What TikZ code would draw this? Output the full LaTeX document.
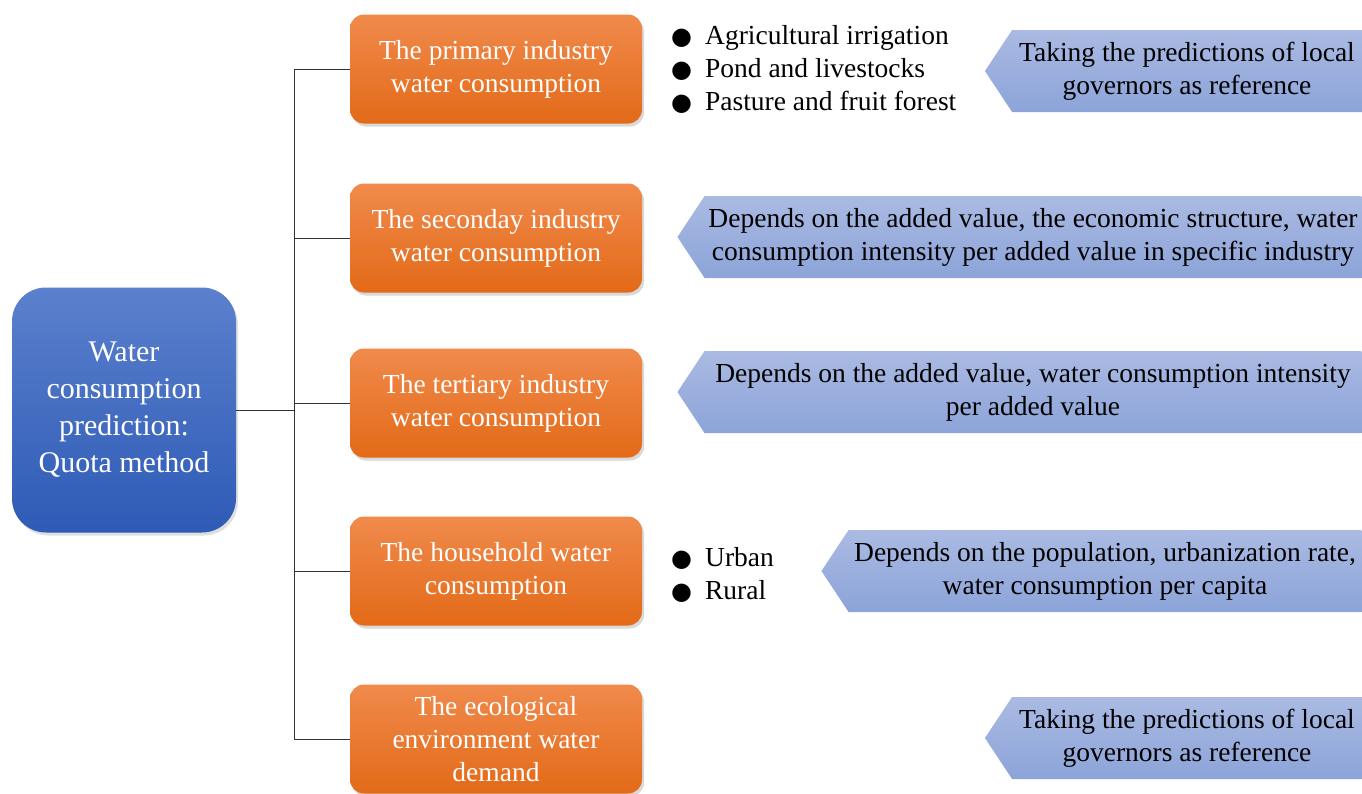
\documentclass[tikz,border=0pt]{standalone}
\usepackage{fontspec}
\setmainfont{Liberation Serif}
\newfontfamily\symfont{DejaVu Sans}
\usetikzlibrary{shapes.symbols,shadows}

\definecolor{rootTop}{HTML}{5B80CD}
\definecolor{rootBot}{HTML}{2E5BB6}
\definecolor{itemTop}{HTML}{F08A4C}
\definecolor{itemBot}{HTML}{E36A18}
\definecolor{noteTop}{HTML}{AABAE2}
\definecolor{noteBot}{HTML}{8CA4D9}

\tikzset{
    root/.style={rounded corners=34, top color=rootTop, bottom color=rootBot,
        text=white, minimum width=224, minimum height=245, align=center,
        font=\fontsize{30}{37}\selectfont,
        drop shadow={opacity=0.25, shadow xshift=2, shadow yshift=3}},
    item/.style={rounded corners=14, top color=itemTop, bottom color=itemBot,
        text=white, minimum width=292, minimum height=109, align=center,
        font=\fontsize{27.5}{33}\selectfont,
        drop shadow={opacity=0.3, shadow xshift=2, shadow yshift=3}},
    note/.style={signal, signal to=west, signal pointer angle=113,
        minimum height=82, top color=noteTop, bottom color=noteBot,
        align=center, inner sep=0, font=\fontsize{27.5}{33}\selectfont},
    list/.style={anchor=west, align=left, inner sep=0,
        font=\fontsize{27.5}{33}\selectfont},
    link/.style={draw=black!80, line width=0.9}
}
\newcommand{\dotitem}{{\symfont\fontsize{24}{33}\selectfont ●}\hspace{13pt}}

\begin{document}
\begin{tikzpicture}[x=1pt, y=-1pt]
    \useasboundingbox (0,0) rectangle (1362,793);

    \node (root) at (124,410) [root] {Water\\consumption\\prediction:\\Quota method};

    \node (o1) at (496,69) [item] {The primary industry\\water consumption};
    \node (o2) at (496,238) [item] {The seconday industry\\water consumption};
    \node (o3) at (496,403) [item] {The tertiary industry\\water consumption};
    \node (o4) at (496,571) [item] {The household water\\consumption};
    \node (o5) at (496,739) [item] {The ecological\\environment water\\demand};

    \coordinate (j) at (294,410);
    \draw[link] (root.east) -- (j);
    \draw[link] (j) |- (o1.west);
    \draw[link] (j) |- (o2.west);
    \draw[link] (j) |- (o3.west);
    \draw[link] (j) |- (o4.west);
    \draw[link] (j) |- (o5.west);

    \node (l1) at (671,69) [list] {\dotitem Agricultural irrigation\\
        \dotitem Pond and livestocks\\ \dotitem Pasture and fruit forest};
    \node (l4) at (671,575) [list] {\dotitem Urban\\ \dotitem Rural};

    \node (n1) at (1187,71) [note, minimum width=377]
        {Taking the predictions of local\\governors as reference};
    \node (n2) at (1033,237) [note, minimum width=684]
        {Depends on the added value, the economic structure, water\\
         consumption intensity per added value in specific industry};
    \node (n3) at (1033,392) [note, minimum width=684]
        {Depends on the added value, water consumption intensity\\per added value};
    \node (n4) at (1105,571) [note, minimum width=540]
        {Depends on the population, urbanization rate,\\water consumption per capita};
    \node (n5) at (1187,738) [note, minimum width=377]
        {Taking the predictions of local\\governors as reference};
\end{tikzpicture}
\end{document}
